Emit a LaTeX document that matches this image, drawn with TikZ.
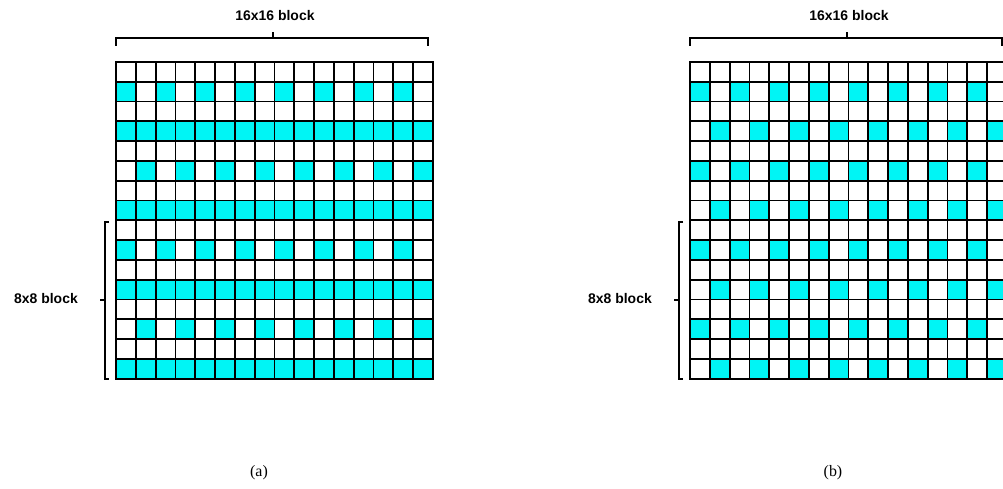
\documentclass[tikz,border=0pt]{standalone}
\usepackage{fontspec}
\setmainfont{Liberation Serif}
\setsansfont{Liberation Sans}
\definecolor{cellcyan}{RGB}{0,245,245}
\begin{document}
\begin{tikzpicture}[x=1bp,y=-1bp,
  cellline/.style={line width=1.8bp, black, line cap=rect},
  bracket/.style={line width=1.1bp, black},
  lbl/.style={font=\fontsize{14}{16}\selectfont\sffamily\bfseries, inner sep=0pt},
  capt/.style={font=\fontsize{16}{19}\selectfont, inner sep=0pt}]
\useasboundingbox (0,0) rectangle (1003,489);
\def\cs{19.8}
% grid (a) and grid (b) cells
\foreach \r in {0,...,15}{\foreach \c in {0,...,15}{
  \pgfmathtruncatemacro{\fa}{(mod(\r,4)==3) || (mod(\r,8)==1 && mod(\c,2)==0) || (mod(\r,8)==5 && mod(\c,2)==1)}
  \ifnum\fa=1 \fill[cellcyan] (116+\c*\cs, 62+\r*\cs) rectangle ++(\cs,\cs); \fi
  \pgfmathtruncatemacro{\fb}{(mod(\r,4)==1 && mod(\c,2)==0) || (mod(\r,4)==3 && mod(\c,2)==1)}
  \ifnum\fb=1 \fill[cellcyan] (690+\c*\cs, 62+\r*\cs) rectangle ++(\cs,\cs); \fi
}}
\foreach \ox in {116,690}{
  \foreach \i in {0,...,16}{
    \draw[cellline] (\ox+\i*\cs,62) -- (\ox+\i*\cs,62+16*\cs);
    \draw[cellline] (\ox,62+\i*\cs) -- (\ox+16*\cs,62+\i*\cs);
  }
}
% brackets and labels
\foreach \ox/\cx/\nm in {0/259/a,574/833/b}{
  \draw[bracket] (116+\ox,46) -- (116+\ox,38) -- (428+\ox,38) -- (428+\ox,46);
  \draw[bracket] (273+\ox,38) -- (273+\ox,32);
  \node[lbl] (top\nm) at (275+\ox,16) {16x16 block};
  \draw[bracket] (109+\ox,222) -- (105+\ox,222) -- (105+\ox,379) -- (109+\ox,379);
  \draw[bracket] (105+\ox,300) -- (100+\ox,300);
  \node[lbl] (side\nm) at (46+\ox,299) {8x8 block};
  \node[capt] (cap\nm) at (\cx,473) {(\nm)};
}
\end{tikzpicture}
\end{document}
